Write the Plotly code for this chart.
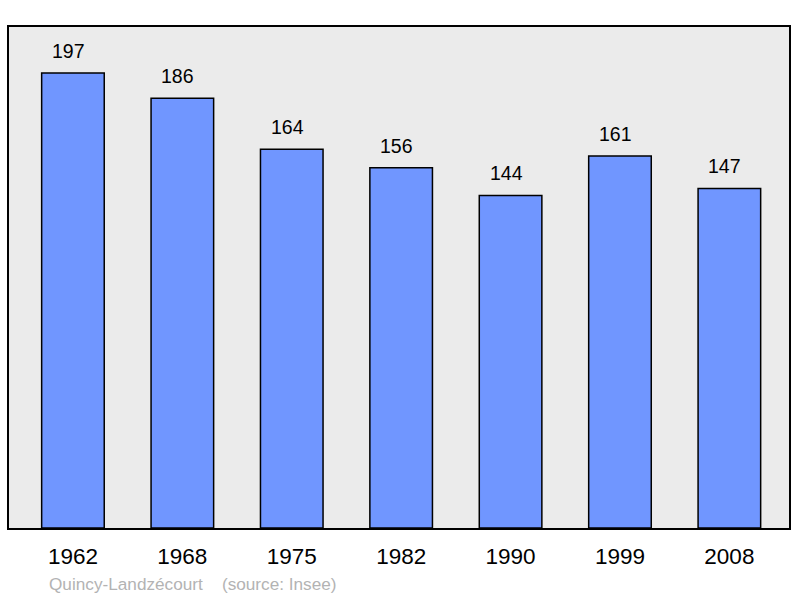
import plotly.graph_objects as go

years = ["1962", "1968", "1975", "1982", "1990", "1999", "2008"]
population = [197, 186, 164, 156, 144, 161, 147]
caption = "Quincy-Landzécourt    (source: Insee)"

fig = go.Figure()
fig.add_trace(go.Bar(
    x=years, y=population,
    width=0.572,
    marker=dict(color="#7096ff", line=dict(color="#000000", width=1.5)),
    hoverinfo="skip",
))

for i, v in enumerate(population):
    fig.add_annotation(x=i, y=v, text=str(v), showarrow=False,
                       yanchor="middle", yshift=22, xshift=-4.5,
                       font=dict(size=19.5, color="#000000", family="Liberation Sans"))

fig.add_annotation(xref="paper", yref="paper", x=(47 - 9) / 782, y=(528 - 584) / 501,
                   xanchor="left", yanchor="middle", showarrow=False, text=caption,
                   font=dict(size=17.2, color="#b3b3b3", family="Liberation Sans"))

fig.update_layout(
    width=800, height=598,
    margin=dict(l=9, r=9, t=27, b=70),
    paper_bgcolor="#ffffff", plot_bgcolor="#ebebeb",
    showlegend=False,
    font=dict(family="Liberation Sans", color="#000000"),
    xaxis=dict(type="category", range=[-0.5845, 6.545], showgrid=False, zeroline=False,
               showline=True, mirror=True, linecolor="#000000", linewidth=2,
               ticks="", tickfont=dict(size=22.5), ticklabelstandoff=7),
    yaxis=dict(range=[0, 216.9], showgrid=False, zeroline=False, showticklabels=False,
               showline=True, mirror=True, linecolor="#000000", linewidth=2, ticks=""),
)

fig.write_html("out.html", config={"displayModeBar": False},
               post_script="document.body.style.margin='0';")
